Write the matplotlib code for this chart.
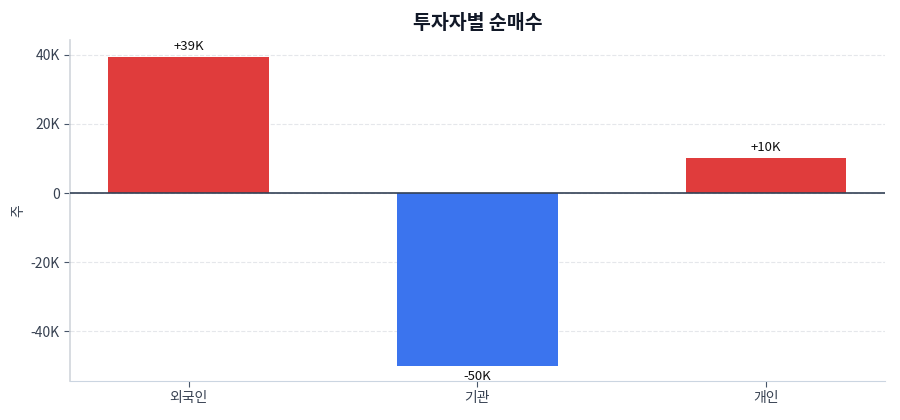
import numpy as np
import matplotlib
matplotlib.use("Agg")
import matplotlib.pyplot as plt
from matplotlib.ticker import FuncFormatter

plt.rcParams['font.family'] = ['Noto Sans CJK KR', 'DejaVu Sans']

# 투자자별 순매수 데이터
investors = ['외국인', '기관', '개인']
net_buy = [39400, -50100, 10100]
bar_labels = ['+39K', '-50K', '+10K']

fig = plt.figure(figsize=(9, 4.2), dpi=100)
ax = fig.add_axes([0.078, 0.093, 0.905, 0.812])

x = np.arange(len(investors))
colors = ['#e03c3c' if v >= 0 else '#3b74ee' for v in net_buy]
ax.bar(x, net_buy, width=0.555, color=colors, zorder=2)

# 값 라벨
for xi, v, lab in zip(x, net_buy, bar_labels):
    if v >= 0:
        ax.annotate(lab, (xi, v), xytext=(0, 3), textcoords='offset points',
                    ha='center', va='bottom', fontsize=9.5, color='#111111')
    else:
        ax.annotate(lab, (xi, v), xytext=(0, -2.5), textcoords='offset points',
                    ha='center', va='top', fontsize=9.5, color='#111111')

ax.axhline(0, color='#334155', linewidth=1.2, zorder=3)

ax.set_xlim(-0.41, 2.41)
ax.set_ylim(-54300, 44300)
ax.set_yticks([-40000, -20000, 0, 20000, 40000])
ax.yaxis.set_major_formatter(FuncFormatter(lambda v, p: '0' if v == 0 else f'{int(v/1000)}K'))
ax.set_xticks(x)
ax.set_xticklabels(investors)

ax.grid(axis='y', linestyle='--', color='#e5e7eb', linewidth=0.8, zorder=0)
ax.set_axisbelow(True)

for s in ['top', 'right']:
    ax.spines[s].set_visible(False)
ax.spines['left'].set_color('#d1d5db')
ax.spines['left'].set_linewidth(1.2)
ax.spines['bottom'].set_color('#cbd5e1')
ax.tick_params(axis='both', colors='#475569', labelsize=10, labelcolor='#374151', length=4)

ax.set_ylabel('주', fontsize=10, color='#374151')
ax.set_title('투자자별 순매수', fontsize=14, fontweight='bold', color='#111827', pad=8)

fig.savefig('out.png', dpi=100)
